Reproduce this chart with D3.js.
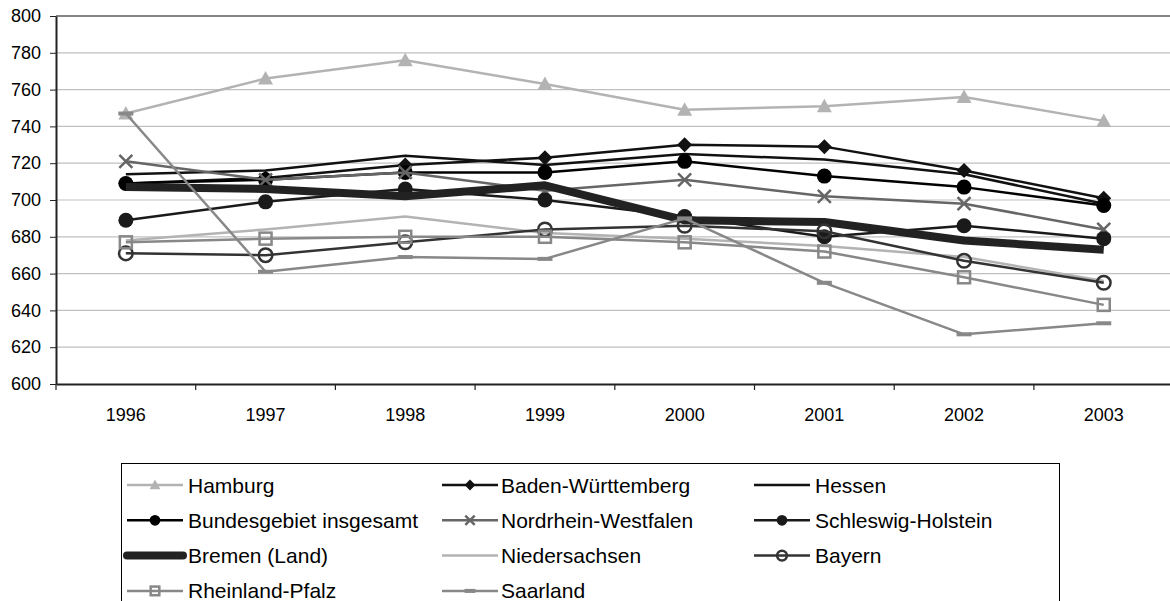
<!DOCTYPE html>
<html><head><meta charset="utf-8">
<script src="https://cdn.jsdelivr.net/npm/d3@7"></script>
<style>body{margin:0;background:#fff}svg{display:block;font-family:Arial,"Liberation Sans",sans-serif}</style>
</head><body><svg id="c" width="1170" height="601"></svg>
<script>
const years = ["1996","1997","1998","1999","2000","2001","2002","2003"];
const yTicks = [600,620,640,660,680,700,720,740,760,780,800];
const seriesNames = ["Hamburg","Baden-Württemberg","Hessen","Bundesgebiet insgesamt","Nordrhein-Westfalen","Schleswig-Holstein","Bremen (Land)","Niedersachsen","Bayern","Rheinland-Pfalz","Saarland"];
const hamburg = [747,766,776,763,749,751,756,743];
const badenWuerttemberg = [709,712,719,723,730,729,716,701];
const hessen = [714,716,724,719,725,722,714,698];
const bundesgebiet = [709,711,715,715,721,713,707,697];
const nrw = [721,711,715,705,711,702,698,684];
const schleswigHolstein = [689,699,706,700,691,680,686,679];
const bremen = [707,706,702,708,689,688,678,673];
const niedersachsen = [678,684,691,682,679,675,669,656];
const bayern = [671,670,677,684,686,683,667,655];
const rheinlandPfalz = [677,679,680,680,677,672,658,643];
const saarland = [747,661,669,668,690,655,627,633];

const values = [hamburg,badenWuerttemberg,hessen,bundesgebiet,nrw,schleswigHolstein,bremen,niedersachsen,bayern,rheinlandPfalz,saarland];
const styles = [
  {color:"#b3b3b3",w:2.5,m:"tri"},
  {color:"#111",w:2.5,m:"dia"},
  {color:"#111",w:2.5,m:null},
  {color:"#000",w:2.5,m:"dot"},
  {color:"#666",w:2.5,m:"x"},
  {color:"#1a1a1a",w:2.5,m:"dot"},
  {color:"#222",w:8,m:null},
  {color:"#b3b3b3",w:2.5,m:null},
  {color:"#333",w:2.5,m:"ocirc"},
  {color:"#888",w:2.5,m:"sq"},
  {color:"#888",w:2.5,m:"dash"}
];

const svg = d3.select("#c");
const left = 56, bw = 139.7;
const x = d3.scaleBand().domain(years).range([left, left + bw*years.length]).padding(0);
const cx = d => x(d) + x.bandwidth()/2;
const y = d3.scaleLinear().domain([600,800]).range([384,16]);

// gridlines
svg.append("g").selectAll("line").data(yTicks.filter(t=>t>600 && t<800)).join("line")
  .attr("x1",left).attr("x2",1170).attr("y1",d=>y(d)).attr("y2",d=>y(d))
  .attr("stroke","#c0c0c0").attr("stroke-width",1.2);
svg.append("line").attr("x1",left).attr("x2",1170).attr("y1",y(800)).attr("y2",y(800))
  .attr("stroke","#858585").attr("stroke-width",2);

// y axis
const ya = svg.append("g").attr("transform",`translate(${left},0)`)
  .call(d3.axisLeft(y).tickValues(yTicks).tickSize(6).tickPadding(9).tickSizeOuter(0));
ya.select(".domain").attr("stroke","#222").attr("stroke-width",2);
ya.selectAll(".tick line").attr("stroke","#222");
ya.selectAll("text").attr("font-size",18).attr("fill","#000").attr("font-family","Arial, 'Liberation Sans', sans-serif");

// x axis
const xa = svg.append("g").attr("transform",`translate(0,384)`)
  .call(d3.axisBottom(x).tickSize(0).tickPadding(0).tickSizeOuter(0));
xa.select(".domain").attr("stroke","#222").attr("stroke-width",2);
xa.selectAll("text").attr("font-size",18).attr("fill","#000").attr("y",24).attr("dy","0.71em")
  .attr("font-family","Arial, 'Liberation Sans', sans-serif");
xa.selectAll(".bnd").data(years).join("line").attr("class","bnd")
  .attr("x1",d=>x(d)).attr("x2",d=>x(d)).attr("y1",0).attr("y2",6).attr("stroke","#222").attr("stroke-width",1.2);

function marker(g, type, color, s){
  if(!type) return;
  if(type==="tri") g.append("path").attr("d",`M0,${-7.5*s}L${7.5*s},${6*s}L${-7.5*s},${6*s}Z`).attr("fill",color);
  else if(type==="dia") g.append("path").attr("d",`M0,${-7.5*s}L${7.5*s},0L0,${7.5*s}L${-7.5*s},0Z`).attr("fill",color);
  else if(type==="dot") g.append("circle").attr("r",7.5*s).attr("fill",color);
  else if(type==="ocirc") g.append("circle").attr("r",6.8*s).attr("fill","none").attr("stroke",color).attr("stroke-width",2.5);
  else if(type==="sq") g.append("rect").attr("x",-6*s).attr("y",-6*s).attr("width",12*s).attr("height",12*s).attr("fill","none").attr("stroke",color).attr("stroke-width",2.5);
  else if(type==="x") g.append("path").attr("d",`M${-6.5*s},${-6.5*s}L${6.5*s},${6.5*s}M${6.5*s},${-6.5*s}L${-6.5*s},${6.5*s}`).attr("stroke",color).attr("stroke-width",2.5);
  else if(type==="dash") g.append("rect").attr("x",-7.5*s).attr("y",-2).attr("width",15*s).attr("height",4).attr("fill",color);
}

const line = d3.line().x((d,i)=>cx(years[i])).y(d=>y(d));
values.forEach((vals,k)=>{
  const st = styles[k];
  const g = svg.append("g");
  g.append("path").attr("d",line(vals)).attr("fill","none").attr("stroke",st.color)
    .attr("stroke-width",st.w).attr("stroke-linejoin","round");
  vals.forEach((v,i)=>{
    const mg = g.append("g").attr("transform",`translate(${cx(years[i])},${y(v)})`);
    marker(mg, st.m, st.color, 1);
  });
});

// legend
svg.append("rect").attr("x",121.5).attr("y",463.5).attr("width",938).attr("height",200)
  .attr("fill","none").attr("stroke","#000").attr("stroke-width",1);
const colX = [127,442,754], textX = [188,501,815];
const baseY = 492.5, rowH = 35.3;
seriesNames.forEach((name,k)=>{
  const col = k%3, row = Math.floor(k/3);
  const st = styles[k];
  const ly = baseY + row*rowH - 7.5;
  const g = svg.append("g");
  g.append("line").attr("x1",colX[col]).attr("x2",colX[col]+56).attr("y1",ly).attr("y2",ly)
    .attr("stroke",st.color).attr("stroke-width",st.w).attr("stroke-linecap",st.w>4?"round":"butt");
  const mg = g.append("g").attr("transform",`translate(${colX[col]+28},${ly})`);
  marker(mg, st.m, st.color, 0.72);
  g.append("text").attr("x",textX[col]).attr("y",baseY + row*rowH).attr("font-size",21).attr("fill","#000").text(name);
});
</script></body></html>
